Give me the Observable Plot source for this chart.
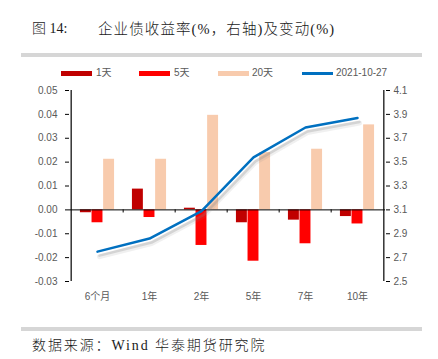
<!DOCTYPE html>
<html><head><meta charset="utf-8">
<script src="https://cdn.jsdelivr.net/npm/d3@7"></script>
<script src="https://cdn.jsdelivr.net/npm/@observablehq/plot@0.6"></script>
<style>
body{margin:0;background:#fff;width:438px;height:359px;position:relative;overflow:hidden;}
.t{position:absolute;white-space:nowrap;}
.serif{font-family:"Liberation Serif","Noto Sans CJK SC",serif;color:#1a1a1a;font-weight:300;}
.lg{font-family:"Liberation Sans","Noto Sans CJK SC",sans-serif;font-size:10px;color:#595959;line-height:12px;}
.sw{position:absolute;height:5px;width:31px;}
</style></head><body>
<div class="t serif" style="left:32px;top:17px;font-size:14px;">图 14:</div>
<div class="t serif" style="left:98px;top:17px;font-size:14.5px;letter-spacing:1.1px;">企业债收益率(%，右轴)及变动(%)</div>
<div style="position:absolute;left:21px;top:53px;width:401px;height:4px;background:#d6d6d6;"></div>
<div id="legend"></div>
<div id="chart" style="position:absolute;left:0;top:80px;"></div>
<div style="position:absolute;left:21px;top:327px;width:401px;height:4px;background:#d6d6d6;"></div>
<div class="t serif" style="left:32px;top:334px;font-size:14px;letter-spacing:1.9px;">数据来源：Wind 华泰期货研究院</div>
<script>
const categories = ["6个月", "1年", "2年", "5年", "7年", "10年"];
const seriesNames = ["1天", "5天", "20天", "2021-10-27"];
const change1d = [-0.0012, 0.0087, 0.0007, -0.0054, -0.0043, -0.0028];
const change5d = [-0.0054, -0.0032, -0.0149, -0.0215, -0.0142, -0.0059];
const change20d = [0.0212, 0.0212, 0.0396, 0.0240, 0.0254, 0.0356];
const yield20211027 = [2.75, 2.86, 3.09, 3.54, 3.79, 3.87];
const leftTicks = [-0.03, -0.02, -0.01, 0.00, 0.01, 0.02, 0.03, 0.04, 0.05];
const rightTicks = [2.5, 2.7, 2.9, 3.1, 3.3, 3.5, 3.7, 3.9, 4.1];

const colors = ["#C00000", "#FF0000", "#F8CBAD", "#0070C0"];

// right axis (2.5..4.1) mapped onto left axis (-0.03..0.05)
const toLeft = v => (v - 3.1) * 0.05;
const toRight = v => v / 0.05 + 3.1;

const W = 438, H = 230, mL = 69, mR = 53, mT = 10, mB = 29;
const bw = (W - mL - mR) / categories.length;
const barW = 11.6;
const groupHalf = barW * 1.5;

function rows(vals){ return categories.map((c, i) => ({cat: c, v: vals[i]})); }
const lineData = categories.map((c, i) => ({cat: c, v: toLeft(yield20211027[i])}));

function barFor(vals, k){
  const left = bw / 2 - groupHalf + k * barW;
  return Plot.barY(rows(vals), {x: "cat", y: "v", fill: colors[k], insetLeft: left, insetRight: bw - left - barW});
}

const chart = Plot.plot({
  width: W, height: H, marginTop: mT, marginBottom: mB, marginLeft: mL, marginRight: mR,
  style: {fontFamily: "'Liberation Sans','Noto Sans CJK SC',sans-serif", fontSize: "10px", background: "transparent"},
  x: {type: "band", domain: categories, padding: 0, axis: null},
  y: {domain: [-0.03, 0.05], axis: null},
  marks: [
    barFor(change1d, 0),
    barFor(change5d, 1),
    barFor(change20d, 2),
    Plot.ruleY([0], {stroke: "black", strokeWidth: 1}),
    Plot.ruleX(categories.slice(1), {x: d => d, y1: 0, y2: -0.0013, dx: -bw / 2, stroke: "black"}),
    Plot.ruleX([categories[0]], {x: d => d, y1: -0.03, y2: 0.05, dx: -bw / 2, stroke: "black", strokeWidth: 1.2}),
    Plot.ruleX([categories[categories.length - 1]], {x: d => d, y1: -0.03, y2: 0.05, dx: bw / 2, stroke: "black", strokeWidth: 1.2}),
    Plot.lineY(lineData, {x: "cat", y: "v", stroke: "#808080", strokeWidth: 5, strokeOpacity: 0.12, dx: 2, dy: 5}),
    Plot.lineY(lineData, {x: "cat", y: "v", stroke: "#808080", strokeWidth: 2.5, strokeOpacity: 0.25, dx: 2, dy: 4}),
    Plot.lineY(lineData, {x: "cat", y: "v", stroke: colors[3], strokeWidth: 2.5}),
    Plot.axisY(leftTicks, {anchor: "left", tickSize: 4, tickPadding: 8, stroke: "black", fill: "#595959", tickFormat: d => d.toFixed(2), label: null}),
    Plot.axisY(rightTicks.map(toLeft), {anchor: "right", tickSize: 4, tickPadding: 4, stroke: "black", fill: "#595959", tickFormat: d => toRight(d).toFixed(1), label: null}),
    Plot.axisX(categories, {anchor: "bottom", tickSize: 0, tickPadding: 11, fill: "#595959", label: null})
  ]
});
document.getElementById("chart").appendChild(chart);

// legend
const legendPos = [[61, 96], [139, 174], [218, 252], [302, 336]];
const lg = document.getElementById("legend");
seriesNames.forEach((name, i) => {
  const [sx, tx] = legendPos[i];
  const sw = document.createElement("div");
  sw.className = "sw";
  sw.style.left = sx + "px";
  if (i === 3) { sw.style.top = "72px"; sw.style.height = "2.5px"; }
  else { sw.style.top = "71px"; }
  sw.style.background = colors[i];
  lg.appendChild(sw);
  const t = document.createElement("div");
  t.className = "t lg";
  t.style.left = tx + "px";
  t.style.top = "67px";
  t.textContent = name;
  lg.appendChild(t);
});
</script>
</body></html>
